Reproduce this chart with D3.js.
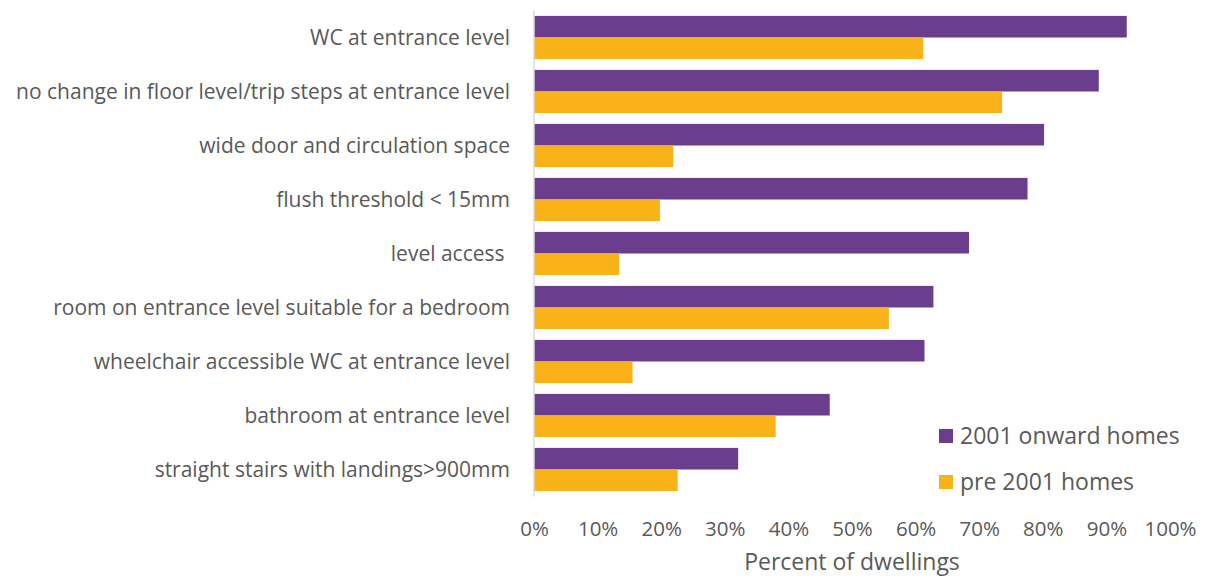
<!DOCTYPE html>
<html>
<head>
<meta charset="utf-8">
<script src="https://cdn.jsdelivr.net/npm/d3@7/dist/d3.min.js"></script>
<style>
  html, body { margin: 0; padding: 0; background: #fff; }
  svg { display: block; font-family: "Open Sans", sans-serif; }
</style>
</head>
<body>
<svg id="chart" width="1206" height="578"></svg>
<script>
// Accessibility features, share of dwellings
const categories = [
  "WC at entrance level",
  "no change in floor level/trip steps at entrance level",
  "wide door and circulation space",
  "flush threshold < 15mm",
  "level access ",
  "room on entrance level suitable for a bedroom",
  "wheelchair accessible WC at entrance level",
  "bathroom at entrance level",
  "straight stairs with landings>900mm"
];
const onward2001 = [93.2, 88.8, 80.2, 77.6, 68.4, 62.8, 61.4, 46.5, 32.1];
const pre2001    = [61.2, 73.6, 21.9, 19.8, 13.4, 55.8, 15.5, 38.0, 22.6];
const seriesNames = ["2001 onward homes", "pre 2001 homes"];
const tickValues = [0, 10, 20, 30, 40, 50, 60, 70, 80, 90, 100];
const axisTitle = "Percent of dwellings";

const colors = ["#6A3D8D", "#F9B218"];
const textColor = "#595959";

const svg = d3.select("#chart");
const x0 = 534, x1 = 1170;
const yTop = 10.5, step = 54;

const x = d3.scaleLinear().domain([0, 100]).range([x0, x1]);
const y = d3.scaleBand().domain(categories)
  .range([yTop, yTop + step * categories.length])
  .paddingInner(0.2).paddingOuter(0.1);
const ySub = d3.scaleBand().domain([0, 1]).range([0, y.bandwidth()]);

// Bars
const series = [onward2001, pre2001];
const g = svg.append("g");
series.forEach((vals, si) => {
  g.selectAll(".s" + si).data(vals).enter().append("rect")
    .attr("x", x(0))
    .attr("y", (d, i) => y(categories[i]) + ySub(si))
    .attr("width", d => x(d) - x(0))
    .attr("height", ySub.bandwidth())
    .attr("fill", colors[si]);
});

// Category axis line
svg.append("line")
  .attr("x1", x(0)).attr("x2", x(0))
  .attr("y1", yTop).attr("y2", yTop + step * categories.length)
  .attr("stroke", "#d9d9d9").attr("stroke-width", 1.5);

// Category labels
svg.append("g").selectAll("text").data(categories).enter().append("text")
  .attr("x", 510)
  .attr("y", d => y(d) + y.bandwidth() / 2)
  .attr("dy", "0.35em")
  .attr("text-anchor", "end")
  .attr("font-size", 21)
  .attr("fill", textColor)
  .style("white-space", "pre")
  .text(d => d);

// Value axis tick labels
const xAxis = d3.axisBottom(x).tickValues(tickValues)
  .tickFormat(d => d + "%").tickSize(0).tickPadding(0);
const ax = svg.append("g").attr("transform", "translate(0,522)").call(xAxis);
ax.select(".domain").remove();
ax.selectAll("text")
  .attr("font-size", 20.5)
  .attr("font-family", "Open Sans, sans-serif")
  .attr("fill", textColor)
  .attr("dy", "0.35em")
  .attr("y", 7);

// Axis title
svg.append("text")
  .attr("x", 852).attr("y", 562)
  .attr("dy", "0.35em")
  .attr("text-anchor", "middle")
  .attr("font-size", 23)
  .attr("fill", textColor)
  .text(axisTitle);

// Legend
const legend = svg.append("g");
seriesNames.forEach((name, i) => {
  const ly = 436 + i * 46;
  legend.append("rect")
    .attr("x", 939).attr("y", ly - 7).attr("width", 14).attr("height", 14)
    .attr("fill", colors[i]);
  legend.append("text")
    .attr("x", 960).attr("y", ly)
    .attr("dy", "0.35em")
    .attr("font-size", 23)
    .attr("fill", textColor)
    .text(name);
});
</script>
</body>
</html>
